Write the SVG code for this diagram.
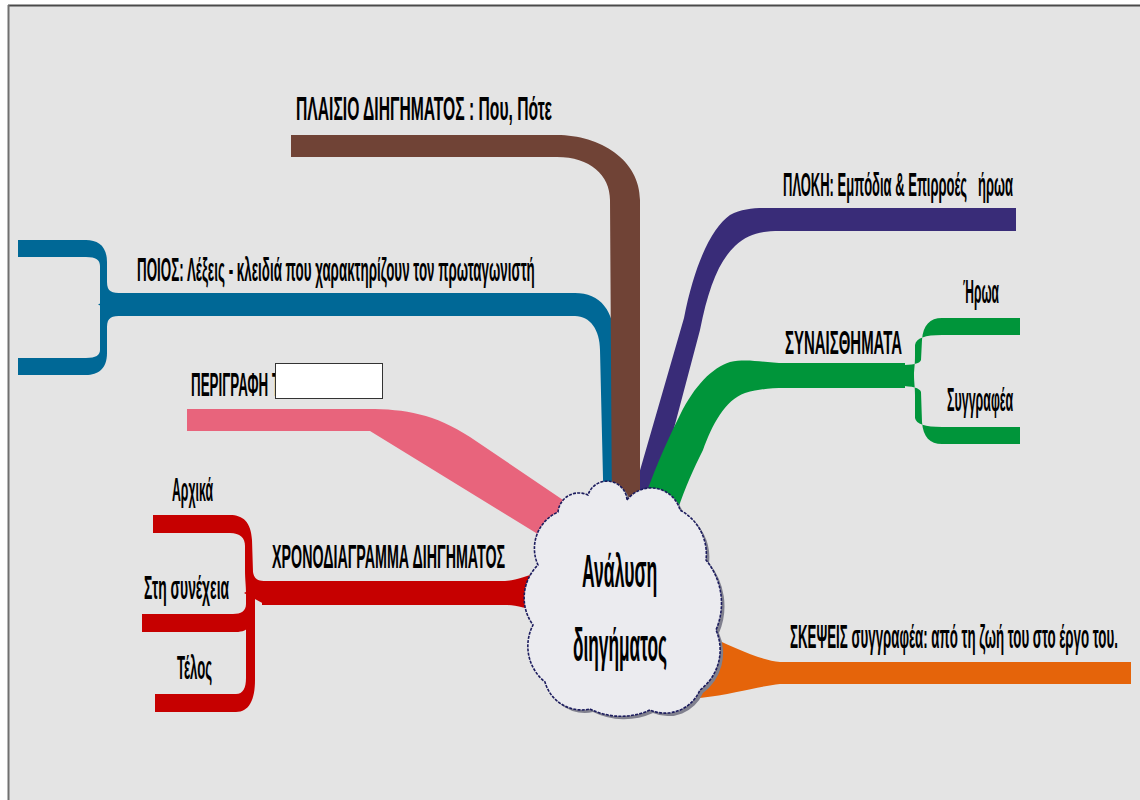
<svg xmlns="http://www.w3.org/2000/svg" width="1140" height="800" viewBox="0 0 1140 800">
<style>
.lbl{font-family:"Liberation Sans","DejaVu Sans",sans-serif;font-weight:bold;font-size:34px;fill:#000}
.big{font-family:"Liberation Sans","DejaVu Sans",sans-serif;font-weight:bold;font-size:46px;fill:#000}
.brown{fill:#704336}.blue{fill:#006896}.pink{fill:#e8647c}.red{fill:#c60000}
.purple{fill:#392c78}.green{fill:#00953a}.orange{fill:#e5640a}
</style>
<defs>
<path id="cloudShape" d="M627,500 A30,30 0 0 1 680,510 A50,50 0 0 1 706,560 A68,68 0 0 1 716,630 A50,50 0 0 1 700,690 A38,38 0 0 1 650,710 A70,70 0 0 1 590,709 A38,38 0 0 1 545,682 A46,46 0 0 1 533,625 A46,46 0 0 1 538,565 A40,40 0 0 1 558,512 A21,21 0 0 1 588,495 A20,20 0 0 1 627,500 Z"/>
</defs>
<rect x="0" y="0" width="1140" height="800" fill="#ffffff"/>
<rect x="8" y="5" width="1132" height="795" fill="#e4e4e4"/>
<line x1="8" y1="5.5" x2="1140" y2="5.5" stroke="#4a4a4a" stroke-width="2"/>
<line x1="8.5" y1="5" x2="8.5" y2="800" stroke="#707070" stroke-width="2"/>

<g id="connectors">
  <path class="pink" d="M187,409 L368,409 C405,409 435,414 470,437 L600,525 L580,560 L370,431 L187,431 Z"/>
  <g class="red">
    <path d="M262,581 L505,581 C515,581 525,576 545,571 L545,613 C525,608 515,605 505,605 L262,605 Z"/>
    <path d="M244,593 L266,581 L266,605 Z"/>
    <path d="M153,515 L230,515 C243,515 251,522 252,540 L253,572 C254,579 258,581 266,581 L266,593 L246,593 C246,585 245,580 245,570 L245,546 C245,538 240,533 230,533 L153,533 Z"/>
    <path d="M142,614 L233,614 C241,614 246,611 246,604 L255,604 C255,624 249,632 236,632 L142,632 Z"/>
    <path d="M155,694 L236,694 C243,694 246,688 246,678 L246,593 L255,593 L255,680 C255,700 249,712 236,712 L155,712 Z"/>
  </g>
  <g class="blue">
    <path d="M118,293 L575,293 C600,293 615,310 615,345 L612,520 L604,520 L600,350 C600,330 590,316 575,316 L118,316 Z"/>
    <path d="M98,304.5 L122,293 L122,316 Z"/>
    <path d="M18,240 L86,240 C98,240 107,246 107,262 L107,282 C107,292 112,293 122,293 L122,304.5 L100,304.5 C100,300 100,296 100,285 L100,266 C100,260 96,257 86,257 L18,257 Z"/>
    <path d="M18,375 L86,375 C98,375 107,369 107,353 L107,327 C107,317 112,316 122,316 L122,304.5 L100,304.5 L100,350 C100,355 96,358 86,358 L18,358 Z"/>
  </g>
  <path class="purple" d="M1016,208 L780,208 C760,208 745,207 730,215 C712,228 695,262 684,318 L630,505 L655,500 L700,330 C708,290 718,262 735,246 C748,234 760,231 780,231 L1016,231 Z"/>
  <g class="green">
    <path d="M905,363 L785,363 C765,363 748,358 730,362 C712,368 695,385 680,415 C665,445 652,475 640,512 L676,515 C684,490 693,470 703,450 C712,425 725,400 745,393 C760,389 770,388 785,388 L905,388 Z"/>
    <path d="M1020,318 L942,318 C930,318 923,325 922,340 L921,360 C920,364 912,365 900,365 L900,375 L914,375 C914,370 915,365 915,355 L915,345 C916,338 925,335 942,335 L1020,335 Z"/>
    <path d="M1020,444 L942,444 C930,444 923,437 922,422 L921,392 C920,388 912,386 900,386 L900,375 L914,375 C914,382 915,387 915,395 L915,418 C916,424 925,427 942,427 L1020,427 Z"/>
  </g>
  <path class="brown" d="M291,135 L557,135 C600,135 640,160 640,200 L640,520 L612,520 L610,200 C610,175 590,157 557,157 L291,157 Z"/>
  <path class="orange" d="M1131,662 L780,662 C760,660 735,648 700,632 L700,698 C735,694 760,686 780,684 L1131,684 Z"/>
</g>

<g id="node-center">
  <use href="#cloudShape" transform="translate(3,3)" fill="#80808e"/>
  <use href="#cloudShape" fill="#ebebef" stroke="#1c1c5e" stroke-width="1.6" stroke-dasharray="3 1.2"/>
  <text class="big" transform="translate(582,587) scale(0.45,1)" textLength="167" lengthAdjust="spacingAndGlyphs">Ανάλυση</text>
  <text class="big" transform="translate(573,661) scale(0.45,1)" textLength="209" lengthAdjust="spacingAndGlyphs">διηγήματος</text>
</g>

<g id="node-plaisio">
  <text class="lbl" transform="translate(296,120) scale(0.45,1)" textLength="569" lengthAdjust="spacingAndGlyphs">ΠΛΑΙΣΙΟ ΔΙΗΓΗΜΑΤΟΣ : Που, Πότε</text>
</g>
<g id="node-poios">
  <text class="lbl" transform="translate(137,281) scale(0.45,1)" textLength="884" lengthAdjust="spacingAndGlyphs">ΠΟΙΟΣ: Λέξεις - κλειδιά που χαρακτηρίζουν τον πρωταγωνιστή</text>
</g>
<g id="node-perigrafi">
  <text class="lbl" transform="translate(191,396) scale(0.45,1)" textLength="198" lengthAdjust="spacingAndGlyphs">ΠΕΡΙΓΡΑΦΗ Τ</text>
  <rect x="275.5" y="363.5" width="107" height="35" fill="#ffffff" stroke="#333333" stroke-width="1"/>
</g>
<g id="node-xronodiagramma">
  <text class="lbl" transform="translate(272,568) scale(0.45,1)" textLength="518" lengthAdjust="spacingAndGlyphs">ΧΡΟΝΟΔΙΑΓΡΑΜΜΑ ΔΙΗΓΗΜΑΤΟΣ</text>
</g>
<g id="node-arxika">
  <text class="lbl" transform="translate(172,501) scale(0.45,1)" textLength="91" lengthAdjust="spacingAndGlyphs">Αρχικά</text>
</g>
<g id="node-synexeia">
  <text class="lbl" transform="translate(144,599) scale(0.45,1)" textLength="189" lengthAdjust="spacingAndGlyphs">Στη συνέχεια</text>
</g>
<g id="node-telos">
  <text class="lbl" transform="translate(177,679) scale(0.45,1)" textLength="78" lengthAdjust="spacingAndGlyphs">Τέλος</text>
</g>
<g id="node-ploki">
  <text class="lbl" transform="translate(783,196) scale(0.45,1)" textLength="511" lengthAdjust="spacingAndGlyphs" xml:space="preserve">ΠΛΟΚΗ: Εμπόδια &amp; Επιρροές   ήρωα</text>
</g>
<g id="node-synaisthimata">
  <text class="lbl" transform="translate(785,354) scale(0.45,1)" textLength="260" lengthAdjust="spacingAndGlyphs">ΣΥΝΑΙΣΘΗΜΑΤΑ</text>
</g>
<g id="node-irwa">
  <text class="lbl" transform="translate(963,303) scale(0.45,1)" textLength="80" lengthAdjust="spacingAndGlyphs">Ήρωα</text>
</g>
<g id="node-syggrafea">
  <text class="lbl" transform="translate(947,411) scale(0.45,1)" textLength="147" lengthAdjust="spacingAndGlyphs">Συγγραφέα</text>
</g>
<g id="node-skepseis">
  <text class="lbl" transform="translate(790,648) scale(0.38,1)" textLength="863" lengthAdjust="spacingAndGlyphs">ΣΚΕΨΕΙΣ συγγραφέα: από τη ζωή του στο έργο του.</text>
</g>
</svg>
